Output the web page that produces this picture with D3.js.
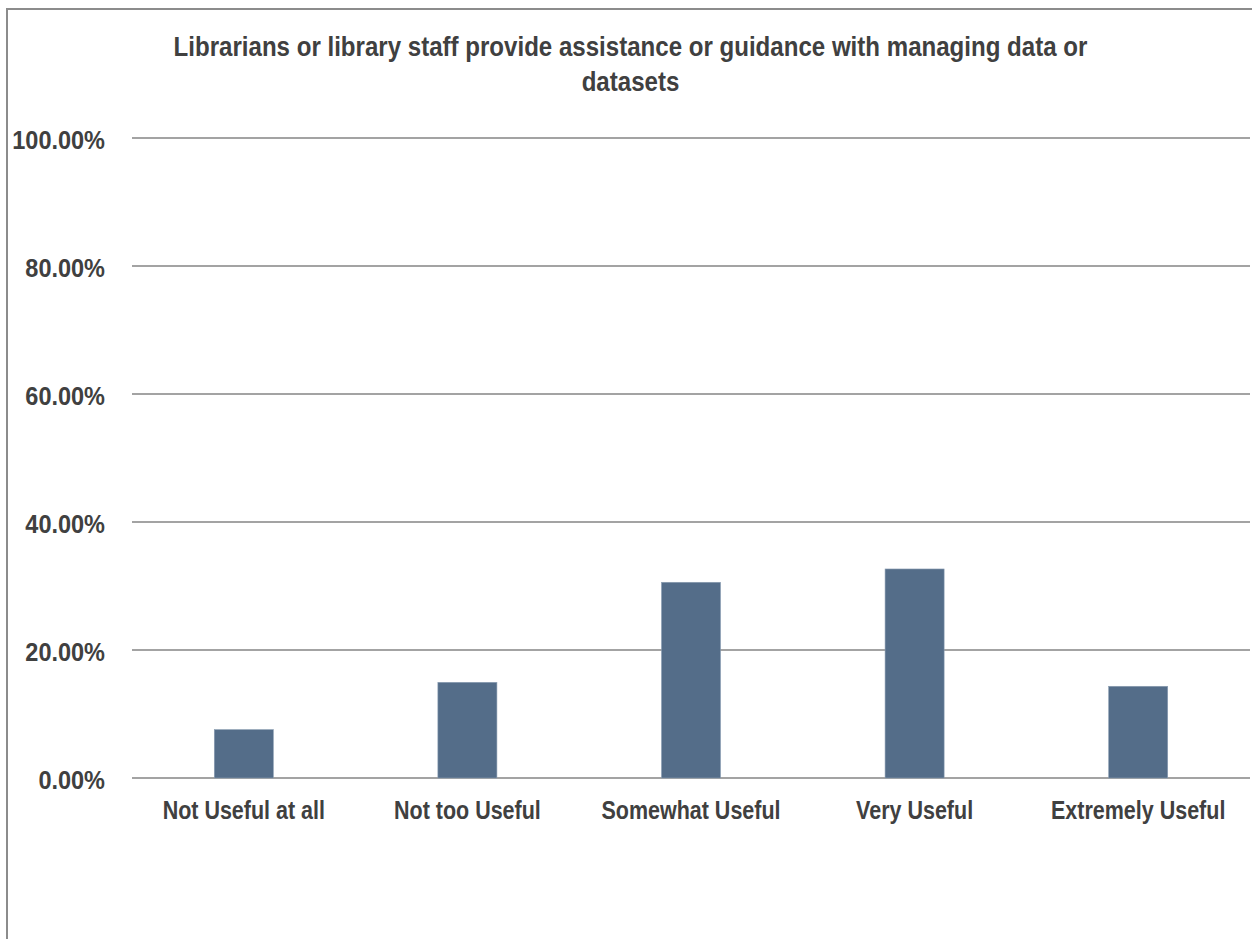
<!DOCTYPE html>
<html>
<head>
<meta charset="utf-8">
<script src="https://cdn.jsdelivr.net/npm/d3@7"></script>
<style>
  html, body { margin: 0; padding: 0; background: #fff; }
  svg { display: block; }
  text { font-family: "Liberation Sans", Arial, sans-serif; font-weight: bold; fill: #404040; }
</style>
</head>
<body>
<script>
// Survey responses: usefulness of library data-management assistance
const categories = ["Not Useful at all", "Not too Useful", "Somewhat Useful", "Very Useful", "Extremely Useful"];
const shares = [7.56, 14.95, 30.58, 32.66, 14.33];
const tickValues = [0, 20, 40, 60, 80, 100];
const titleLines = ["Librarians or library staff provide assistance or guidance with managing data or", "datasets"];

const W = 1252, H = 939;
const plot = { left: 132, right: 1250, top: 138, bottom: 778 };

const svg = d3.select("body").append("svg").attr("width", W).attr("height", H);

// outer chart frame
svg.append("rect")
  .attr("x", 7).attr("y", 9).attr("width", W + 20).attr("height", H + 20)
  .attr("fill", "#fff").attr("stroke", "#8c8c8c").attr("stroke-width", 2);

const x = d3.scaleBand().domain(categories).range([plot.left, plot.right]).padding(0);
const y = d3.scaleLinear().domain([0, 100]).range([plot.bottom, plot.top]);

// gridlines
svg.append("g").selectAll("line").data(tickValues).join("line")
  .attr("x1", plot.left).attr("x2", plot.right)
  .attr("y1", d => y(d)).attr("y2", d => y(d))
  .attr("stroke", "#858585").attr("stroke-width", 1.5);

// condensed text helper: horizontal squeeze of a bold sans face
const narrow = (sx) => (sel, px, py) => sel.attr("transform", (d, i) => `translate(${px(d, i)},${py(d, i)}) scale(${sx},1)`);

// y tick labels
svg.append("g").selectAll("text").data(tickValues).join("text")
  .call(narrow(0.94), () => 105, d => y(d) + 11)
  .attr("text-anchor", "end")
  .style("font-size", "25px")
  .text(d => d3.format(".2f")(d) + "%");

// bars
const barW = x.bandwidth() * 0.264;
svg.append("g").selectAll("rect").data(shares).join("rect")
  .attr("x", (d, i) => x(categories[i]) + (x.bandwidth() - barW) / 2)
  .attr("width", barW)
  .attr("y", d => y(d))
  .attr("height", d => y(0) - y(d))
  .attr("fill", "#546d89")
  .attr("stroke", "#8a9db2").attr("stroke-width", 0.6);

// category labels
svg.append("g").selectAll("text").data(categories).join("text")
  .call(narrow(0.86), d => x(d) + x.bandwidth() / 2, () => 819)
  .attr("text-anchor", "middle")
  .style("font-size", "25px")
  .text(d => d);

// title
svg.append("g").selectAll("text").data(titleLines).join("text")
  .call(narrow(0.86), () => 630.5, (d, i) => 56 + i * 35)
  .attr("text-anchor", "middle")
  .style("font-size", "28px")
  .text(d => d);
</script>
</body>
</html>
